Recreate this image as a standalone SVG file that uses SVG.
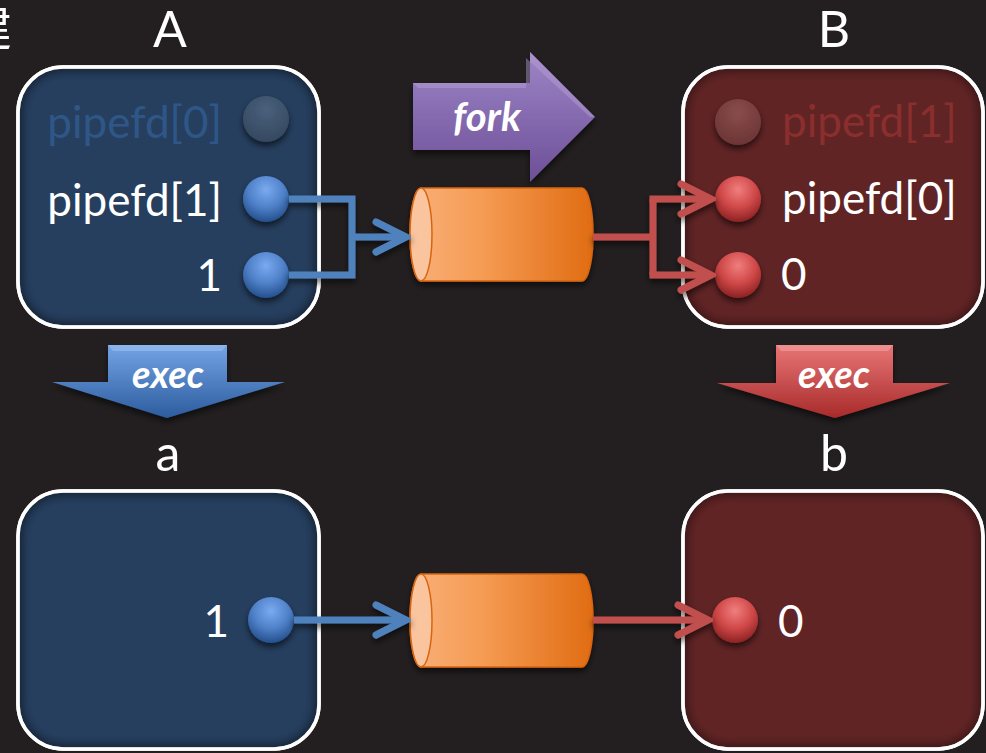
<svg xmlns="http://www.w3.org/2000/svg" width="986" height="753" viewBox="0 0 986 753">
<defs>
<style>
.lbl{font-family:Lato,"Noto Sans",sans-serif;fill:#fff}
.big{font-size:50px}
.fd{font-size:44px}
.act{font-family:Lato,"Noto Sans",sans-serif;font-weight:bold;font-style:italic;fill:#fff;font-size:38px}
.bx{stroke:#fff;stroke-width:3.5}
.blue{stroke:#4f81bd;stroke-width:7;fill:none}
.red{stroke:#c0504d;stroke-width:7;fill:none}
</style>
<radialGradient id="gBlueDot" cx="50%" cy="30%" r="70%">
<stop offset="0" stop-color="#7aaaf0"/><stop offset="0.55" stop-color="#4f81c9"/><stop offset="1" stop-color="#24508c"/>
</radialGradient>
<radialGradient id="gRedDot" cx="50%" cy="30%" r="70%">
<stop offset="0" stop-color="#f07e7e"/><stop offset="0.55" stop-color="#d04848"/><stop offset="1" stop-color="#8c2222"/>
</radialGradient>
<radialGradient id="gBlueDim" cx="50%" cy="30%" r="70%">
<stop offset="0" stop-color="#4a607c"/><stop offset="1" stop-color="#34495f"/>
</radialGradient>
<radialGradient id="gRedDim" cx="50%" cy="30%" r="70%">
<stop offset="0" stop-color="#8a4c4c"/><stop offset="1" stop-color="#6c3535"/>
</radialGradient>
<linearGradient id="gCyl" x1="0" y1="0" x2="1" y2="0">
<stop offset="0" stop-color="#f9b079"/><stop offset="0.4" stop-color="#f59b53"/><stop offset="1" stop-color="#e06c12"/>
</linearGradient>
<linearGradient id="gFork" x1="0" y1="0" x2="0" y2="1">
<stop offset="0" stop-color="#9d85c6"/><stop offset="1" stop-color="#6d4f98"/>
</linearGradient>
<linearGradient id="gExecB" x1="0" y1="0" x2="0" y2="1">
<stop offset="0" stop-color="#74a4e6"/><stop offset="1" stop-color="#2c5c9e"/>
</linearGradient>
<linearGradient id="gExecR" x1="0" y1="0" x2="0" y2="1">
<stop offset="0" stop-color="#e87676"/><stop offset="1" stop-color="#a82a2a"/>
</linearGradient>
<filter id="sh" x="-20%" y="-20%" width="140%" height="150%">
<feDropShadow dx="0" dy="4" stdDeviation="3" flood-color="#000" flood-opacity="0.6"/>
</filter>
<filter id="inner" x="-5%" y="-5%" width="110%" height="110%">
<feGaussianBlur stdDeviation="5"/>
</filter>
<marker id="mBlue" viewBox="0 0 40 38" refX="35" refY="19" markerWidth="40" markerHeight="38" markerUnits="userSpaceOnUse" orient="auto">
<path d="M5,4 L35,19 L5,34" fill="none" stroke="#4f81bd" stroke-width="7" stroke-linecap="round" stroke-linejoin="miter"/>
</marker>
<marker id="mRed" viewBox="0 0 40 38" refX="35" refY="19" markerWidth="40" markerHeight="38" markerUnits="userSpaceOnUse" orient="auto">
<path d="M5,4 L35,19 L5,34" fill="none" stroke="#c0504d" stroke-width="7" stroke-linecap="round" stroke-linejoin="miter"/>
</marker>
<clipPath id="cA"><rect x="18" y="67" width="301" height="260" rx="45"/></clipPath>
<clipPath id="cB"><rect x="683" y="67" width="300" height="260" rx="45"/></clipPath>
<clipPath id="ca"><rect x="18" y="491" width="301" height="258" rx="45"/></clipPath>
<clipPath id="cb"><rect x="683" y="491" width="300" height="258" rx="45"/></clipPath>
</defs>
<rect width="986" height="753" fill="#231f20"/>
<text x="-38" y="46" font-family="'Noto Sans CJK SC',sans-serif" font-size="50" fill="#fff">建</text>

<g id="procA">
<text class="lbl big" x="170" y="47" text-anchor="middle">A</text>
<rect class="bx" x="18" y="67" width="301" height="260" rx="45" fill="#263f5f"/>
<rect x="18" y="67" width="301" height="260" rx="45" fill="none" stroke="#000" stroke-opacity="0.45" stroke-width="10" filter="url(#inner)" clip-path="url(#cA)"/>
<rect x="18" y="67" width="301" height="260" rx="45" fill="none" stroke="#fff" stroke-width="3.5"/>
<text class="lbl fd" x="222" y="138" text-anchor="end" style="fill:#2e5787">pipefd[0]</text>
<circle cx="266" cy="119" r="23" fill="url(#gBlueDim)" filter="url(#sh)"/>
<text class="lbl fd" x="222" y="216" text-anchor="end">pipefd[1]</text>
<circle cx="266" cy="199" r="23" fill="url(#gBlueDot)" filter="url(#sh)"/>
<text class="lbl fd" x="222" y="291" text-anchor="end">1</text>
<circle cx="266" cy="275" r="23" fill="url(#gBlueDot)" filter="url(#sh)"/>
</g>

<g id="procB">
<text class="lbl big" x="834" y="47" text-anchor="middle">B</text>
<rect class="bx" x="683" y="67" width="300" height="260" rx="45" fill="#612425"/>
<rect x="683" y="67" width="300" height="260" rx="45" fill="none" stroke="#000" stroke-opacity="0.4" stroke-width="10" filter="url(#inner)" clip-path="url(#cB)"/>
<rect x="683" y="67" width="300" height="260" rx="45" fill="none" stroke="#fff" stroke-width="3.5"/>
<circle cx="738" cy="122" r="23" fill="url(#gRedDim)" filter="url(#sh)"/>
<text class="lbl fd" x="782" y="137" style="fill:#8a2e2e">pipefd[1]</text>
<circle cx="738" cy="199" r="23" fill="url(#gRedDot)" filter="url(#sh)"/>
<text class="lbl fd" x="782" y="214">pipefd[0]</text>
<circle cx="738" cy="275" r="23" fill="url(#gRedDot)" filter="url(#sh)"/>
<text class="lbl fd" x="781" y="290">0</text>
</g>

<g id="fork">
<path d="M413,83 H530 V52 L595,117 L530,182 V150 H413 Z" fill="url(#gFork)" filter="url(#sh)"/>
<path d="M413,83 H530 V52 L595,117 L590,117 L526,58 V88 H418 Z" fill="#b7a2d8" opacity="0.45"/>
<text class="act" x="487" y="131" text-anchor="middle" style="font-size:40px">fork</text>
</g>

<g id="pipeTop">
<path d="M421,188 H582 A11,46.5 0 0 1 582,281 H421 A11,46.5 0 0 1 421,188 Z" fill="url(#gCyl)" stroke="#d8650e" stroke-width="1.5" filter="url(#sh)"/>
<ellipse cx="421" cy="234.5" rx="11" ry="46.5" fill="#f9c49e" stroke="#d8650e" stroke-width="1.5"/>
</g>

<g id="execA">
<path d="M108,345 H227 V382 H285 L167,418 L52,382 H108 Z" fill="url(#gExecB)" filter="url(#sh)"/>
<path d="M108,345 H227 L222,351 H113 Z" fill="#9cc0f0" opacity="0.6"/>
<text class="act" x="168" y="388" text-anchor="middle">exec</text>
</g>

<g id="execB">
<path d="M776,345 H893 V383 H950 L835,418 L717,383 H776 Z" fill="url(#gExecR)" filter="url(#sh)"/>
<path d="M776,345 H893 L888,351 H781 Z" fill="#f3a0a0" opacity="0.6"/>
<text class="act" x="834" y="388" text-anchor="middle">exec</text>
</g>

<g id="proca">
<text class="lbl big" x="168" y="471" text-anchor="middle">a</text>
<rect class="bx" x="18" y="491" width="301" height="258" rx="45" fill="#263f5f"/>
<rect x="18" y="491" width="301" height="258" rx="45" fill="none" stroke="#000" stroke-opacity="0.45" stroke-width="10" filter="url(#inner)" clip-path="url(#ca)"/>
<rect x="18" y="491" width="301" height="258" rx="45" fill="none" stroke="#fff" stroke-width="3.5"/>
<text class="lbl fd" x="229" y="637" text-anchor="end">1</text>
<circle cx="271" cy="620" r="23" fill="url(#gBlueDot)" filter="url(#sh)"/>
</g>

<g id="procb">
<text class="lbl big" x="834" y="471" text-anchor="middle">b</text>
<rect class="bx" x="683" y="491" width="300" height="258" rx="45" fill="#612425"/>
<rect x="683" y="491" width="300" height="258" rx="45" fill="none" stroke="#000" stroke-opacity="0.4" stroke-width="10" filter="url(#inner)" clip-path="url(#cb)"/>
<rect x="683" y="491" width="300" height="258" rx="45" fill="none" stroke="#fff" stroke-width="3.5"/>
<circle cx="735" cy="620" r="23" fill="url(#gRedDot)" filter="url(#sh)"/>
<text class="lbl fd" x="778" y="637">0</text>
</g>

<g id="pipeBottom">
<path d="M421,574 H582 A11,46.5 0 0 1 582,667 H421 A11,46.5 0 0 1 421,574 Z" fill="url(#gCyl)" stroke="#d8650e" stroke-width="1.5" filter="url(#sh)"/>
<ellipse cx="421" cy="620.5" rx="11" ry="46.5" fill="#f9c49e" stroke="#d8650e" stroke-width="1.5"/>
</g>

<g id="connectors" filter="url(#sh)">
<path class="blue" d="M289,199 H352 V275 H289"/>
<path class="blue" d="M352,237 H406" marker-end="url(#mBlue)"/>
<path class="red" d="M593,237 H653"/>
<path class="red" d="M653,199 V275"/>
<path class="red" d="M649.5,199 H711" marker-end="url(#mRed)"/>
<path class="red" d="M649.5,275 H711" marker-end="url(#mRed)"/>
<path class="blue" d="M294,620 H406" marker-end="url(#mBlue)"/>
<path class="red" d="M593,620 H708" marker-end="url(#mRed)"/>
</g>
</svg>
